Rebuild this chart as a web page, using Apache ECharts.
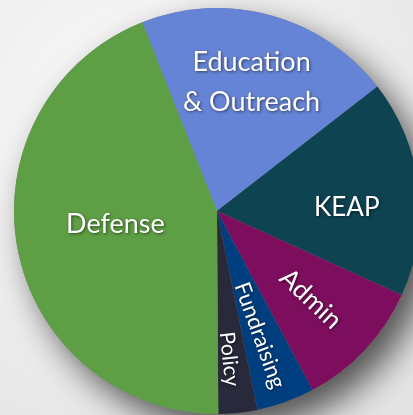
<html>
<head>
	<meta charset="utf-8">
	<title>Budget</title>
	<script src="https://cdn.jsdelivr.net/npm/echarts@6/dist/echarts.min.js"></script>
	<style type="text/css">
		html, body { margin: 0; padding: 0; width: 100%; height: 100%; }
	</style>
</head>
	<body>
		<div id="chart" style="width:413px;height:415px"></div>
	<script type="text/javascript">
		// slices, clockwise from Education
		var names = ['Education\n& Outreach', 'KEAP', 'Admin', 'Fundraising', 'Policy', 'Defense'];
		var values = [20.5, 17.3, 10.4, 4.6, 3.1, 44.1];
		var colors = ['#6684d5', '#0e4352', '#7d0e5e', '#003f7f', '#282a3c', '#5e9e44'];
		// label nudges away from the default inside position
		// (for the radial ones dx runs along the text)
		var labelShift = [[7, -28], [26, 9], [24, 0], [27, 2], [44, 3], [1, -7]];
		var labelSize = [27, 26, 26, 22, 21, 27];
		var radialLabel = [false, false, true, true, true, false];

		var myChart = echarts.init(document.getElementById('chart'));
		var pieData = [];
		for (var i = 0; i < names.length; i++) {
			pieData.push({
				name: names[i],
				value: values[i],
				itemStyle: { color: colors[i] },
				label: {
					fontSize: labelSize[i],
					lineHeight: 40,
					rotate: radialLabel[i] ? 'radial' : 0
				}
			});
		}
		var option = {
			backgroundColor: {
				type: 'radial', x: 0.35, y: 0.3, r: 0.9,
				colorStops: [{ offset: 0, color: '#fbfbfb' }, { offset: 1, color: '#e4e4e4' }]
			},
			animation: false,
			series: [
				{
					// shadow disc under the pie
					type: 'pie',
					silent: true,
					z: 1,
					center: [217, 211],
					radius: 203,
					label: { show: false },
					itemStyle: {
						color: '#888',
						shadowBlur: 34,
						shadowColor: 'rgba(0,0,0,0.65)',
						shadowOffsetX: 14,
						shadowOffsetY: 16
					},
					data: [{ value: 1 }]
				},
				{
					type: 'pie',
					z: 2,
					center: [217, 211],
					radius: 203,
					startAngle: 111.6,
					clockwise: true,
					avoidLabelOverlap: false,
					label: {
						show: true,
						position: 'inside',
						color: '#fff',
						fontFamily: 'Lato',
						formatter: '{b}',
						textShadowColor: 'rgba(0,0,0,0.55)',
						textShadowBlur: 3,
						textShadowOffsetX: 1,
						textShadowOffsetY: 1
					},
					labelLine: { show: false },
					labelLayout: function (params) {
						var s = labelShift[params.dataIndex];
						return { dx: s[0], dy: s[1] };
					},
					itemStyle: { borderWidth: 0 },
					data: pieData
				}
			]
		};
		myChart.setOption(option);
	</script>
	</body>
</html>
